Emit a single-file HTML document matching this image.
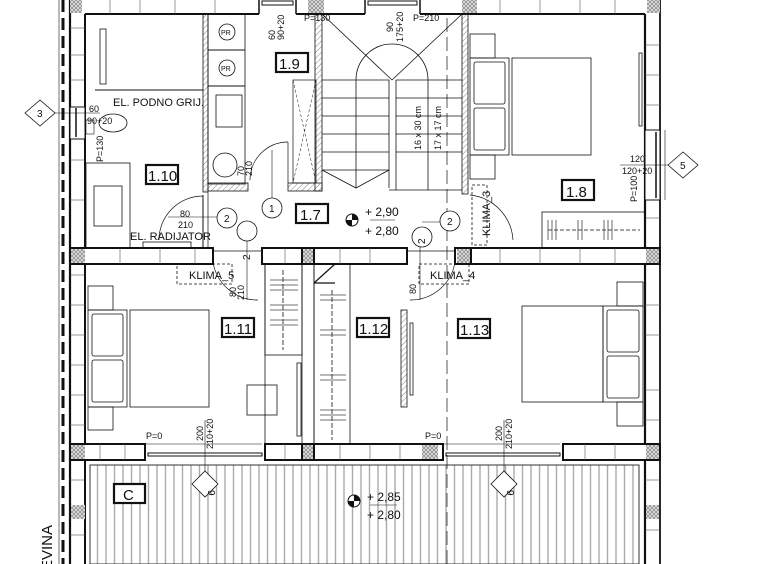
<!DOCTYPE html>
<html><head><meta charset="utf-8"><style>
html,body{margin:0;padding:0;background:#fff;}
svg{display:block;}
text{font-family:"Liberation Sans",sans-serif;fill:#111;}
</style></head><body>
<svg width="758" height="564" viewBox="0 0 758 564" xmlns="http://www.w3.org/2000/svg">
<defs>
<pattern id="hx" width="4" height="4" patternUnits="userSpaceOnUse"><rect width="4" height="4" fill="#ddd"/><path d="M0 0L4 4M4 0L0 4" stroke="#777" stroke-width="0.6"/></pattern>
<pattern id="hd" width="4" height="4" patternUnits="userSpaceOnUse" patternTransform="rotate(45)"><line x1="0" y1="0" x2="0" y2="4" stroke="#888" stroke-width="1"/></pattern>
<pattern id="terr" width="8.5" height="10" patternUnits="userSpaceOnUse"><line x1="4" y1="0" x2="4" y2="10" stroke="#aaa" stroke-width="1.4"/></pattern>
</defs>
<g fill="none" stroke="#111">
<line x1="63" y1="0" x2="63" y2="564" stroke-width="3" stroke-dasharray="12,6"/>
<line x1="59" y1="0" x2="59" y2="564" stroke-width="0.6"/>
<line x1="70" y1="0" x2="70" y2="564" stroke-width="2.2"/>
<line x1="85" y1="14" x2="85" y2="564" stroke-width="2"/>
<g stroke-width="0.6" stroke="#555"><line x1="70" y1="28" x2="85" y2="28"/><line x1="70" y1="55" x2="85" y2="55"/><line x1="70" y1="80" x2="85" y2="80"/><line x1="70" y1="275" x2="85" y2="275"/><line x1="70" y1="305" x2="85" y2="305"/><line x1="70" y1="335" x2="85" y2="335"/><line x1="70" y1="365" x2="85" y2="365"/><line x1="70" y1="395" x2="85" y2="395"/><line x1="70" y1="425" x2="85" y2="425"/><line x1="70" y1="480" x2="85" y2="480"/><line x1="70" y1="535" x2="85" y2="535"/><line x1="70" y1="160" x2="85" y2="160"/><line x1="70" y1="200" x2="85" y2="200"/></g>
<rect x="70" y="107" width="15" height="32" fill="#fff" stroke-width="1"/>
<line x1="76" y1="108" x2="76" y2="137" stroke-width="1.5"/>
<line x1="645" y1="14" x2="645" y2="564" stroke-width="2.2"/>
<line x1="660" y1="0" x2="660" y2="564" stroke-width="1.8"/>
<line x1="665" y1="130" x2="665" y2="200" stroke-width="0.6"/>
<rect x="645" y="130" width="15" height="70" fill="#fff" stroke-width="1"/>
<line x1="656" y1="132" x2="656" y2="198" stroke-width="1.5"/>
<g stroke-width="0.6" stroke="#555"><line x1="645" y1="45" x2="660" y2="45"/><line x1="645" y1="75" x2="660" y2="75"/><line x1="645" y1="105" x2="660" y2="105"/><line x1="645" y1="218" x2="660" y2="218"/><line x1="645" y1="305" x2="660" y2="305"/><line x1="645" y1="335" x2="660" y2="335"/><line x1="645" y1="390" x2="660" y2="390"/><line x1="645" y1="420" x2="660" y2="420"/><line x1="645" y1="480" x2="660" y2="480"/><line x1="645" y1="530" x2="660" y2="530"/></g>
<line x1="85" y1="14" x2="259" y2="14" stroke-width="2"/>
<line x1="296" y1="14" x2="365" y2="14" stroke-width="2"/>
<line x1="420" y1="14" x2="645" y2="14" stroke-width="2"/>
<line x1="259" y1="0" x2="259" y2="14" stroke-width="1.5"/><line x1="296" y1="0" x2="296" y2="14" stroke-width="1.5"/>
<line x1="365" y1="0" x2="365" y2="14" stroke-width="1.5"/><line x1="420" y1="0" x2="420" y2="14" stroke-width="1.5"/>
<rect x="262" y="1" width="31" height="4" stroke-width="1"/><rect x="368" y="1" width="49" height="4" stroke-width="1"/>
<g stroke-width="0.6" stroke="#555"><line x1="110" y1="0" x2="110" y2="14"/><line x1="140" y1="0" x2="140" y2="14"/><line x1="175" y1="0" x2="175" y2="14"/><line x1="215" y1="0" x2="215" y2="14"/><line x1="500" y1="0" x2="500" y2="14"/><line x1="540" y1="0" x2="540" y2="14"/><line x1="580" y1="0" x2="580" y2="14"/><line x1="615" y1="0" x2="615" y2="14"/></g>
<rect x="70" y="0" width="12" height="13" fill="url(#hx)" stroke="none"/>
<rect x="308" y="0" width="16" height="13" fill="url(#hx)" stroke="none"/>
<rect x="462" y="0" width="15" height="13" fill="url(#hx)" stroke="none"/>
<rect x="647" y="0" width="13" height="13" fill="url(#hx)" stroke="none"/>
<rect x="70" y="248" width="143" height="16" fill="#fff" stroke-width="2"/>
<rect x="262" y="248" width="145" height="16" fill="#fff" stroke-width="2"/>
<rect x="455" y="248" width="205" height="16" fill="#fff" stroke-width="2"/>
<rect x="71" y="249" width="14" height="14" fill="url(#hx)" stroke="none"/>
<rect x="302" y="249" width="12" height="14" fill="url(#hx)" stroke="none"/>
<rect x="457" y="249" width="14" height="14" fill="url(#hx)" stroke="none"/>
<rect x="646" y="249" width="13" height="14" fill="url(#hx)" stroke="none"/>
<line x1="302" y1="248" x2="302" y2="264" stroke-width="2"/><line x1="314" y1="248" x2="314" y2="264" stroke-width="2"/>
<line x1="471" y1="248" x2="471" y2="264" stroke-width="2"/>
<g stroke-width="0.6" stroke="#555"><line x1="120" y1="248" x2="120" y2="264"/><line x1="160" y1="248" x2="160" y2="264"/><line x1="195" y1="248" x2="195" y2="264"/><line x1="285" y1="248" x2="285" y2="264"/><line x1="340" y1="248" x2="340" y2="264"/><line x1="370" y1="248" x2="370" y2="264"/><line x1="500" y1="248" x2="500" y2="264"/><line x1="540" y1="248" x2="540" y2="264"/><line x1="580" y1="248" x2="580" y2="264"/><line x1="615" y1="248" x2="615" y2="264"/></g>
<line x1="213" y1="251" x2="262" y2="251" stroke-width="0.7"/><line x1="407" y1="251" x2="455" y2="251" stroke-width="0.7"/>
<rect x="70" y="444" width="75" height="16" fill="#fff" stroke-width="2"/>
<rect x="265" y="444" width="178" height="16" fill="#fff" stroke-width="2"/>
<rect x="563" y="444" width="97" height="16" fill="#fff" stroke-width="2"/>
<rect x="71" y="445" width="14" height="14" fill="url(#hx)" stroke="none"/>
<rect x="302" y="445" width="12" height="14" fill="url(#hx)" stroke="none"/>
<rect x="422" y="445" width="16" height="14" fill="url(#hx)" stroke="none"/>
<rect x="646" y="445" width="13" height="14" fill="url(#hx)" stroke="none"/>
<line x1="302" y1="444" x2="302" y2="460" stroke-width="2"/><line x1="314" y1="444" x2="314" y2="460" stroke-width="2"/>
<g stroke-width="0.6" stroke="#555"><line x1="100" y1="444" x2="100" y2="460"/><line x1="125" y1="444" x2="125" y2="460"/><line x1="285" y1="444" x2="285" y2="460"/><line x1="340" y1="444" x2="340" y2="460"/><line x1="370" y1="444" x2="370" y2="460"/><line x1="400" y1="444" x2="400" y2="460"/><line x1="585" y1="444" x2="585" y2="460"/><line x1="615" y1="444" x2="615" y2="460"/></g>
<rect x="148" y="453" width="114" height="3" stroke-width="1"/><rect x="446" y="453" width="114" height="3" stroke-width="1"/>
<line x1="145" y1="444" x2="262" y2="444" stroke-width="0.6"/><line x1="443" y1="444" x2="560" y2="444" stroke-width="0.6"/>
<rect x="71" y="505" width="14" height="14" fill="url(#hx)" stroke="none"/>
<rect x="646" y="505" width="13" height="14" fill="url(#hx)" stroke="none"/>
<rect x="90" y="465" width="549" height="99" fill="url(#terr)" stroke="#333" stroke-width="1"/>
<rect x="203" y="14" width="5" height="178" fill="url(#hd)" stroke-width="0.8"/>
<line x1="203" y1="195" x2="203" y2="248" stroke-width="1"/>
<line x1="208" y1="192" x2="208" y2="248" stroke-width="0.7"/>
<line x1="95" y1="90" x2="203" y2="90" stroke-width="1"/>
<rect x="100" y="29" width="6" height="55" stroke-width="0.8"/>
<rect x="86" y="163" width="44" height="85" stroke-width="0.8"/>
<rect x="94" y="186" width="28" height="40" stroke-width="0.8"/>
<rect x="86" y="120" width="8" height="14" stroke-width="0.6"/>
<ellipse cx="113" cy="123" rx="14" ry="9" stroke-width="0.8"/>
<rect x="143" y="242" width="48" height="6" stroke-width="0.8"/>
<path d="M203 196 A44 44 0 0 0 159 240" stroke-width="0.7"/>
<rect x="208" y="14" width="37" height="170" stroke-width="0.8"/>
<line x1="208" y1="50" x2="245" y2="50"/><line x1="208" y1="86" x2="245" y2="86"/>
<circle cx="227" cy="32" r="8" stroke-width="0.8"/><circle cx="227" cy="68" r="8" stroke-width="0.8"/>
<rect x="216" y="95" width="26" height="32" stroke-width="0.8"/>
<circle cx="225" cy="165" r="12" stroke-width="0.8"/>
<rect x="208" y="183" width="40" height="8" fill="url(#hd)" stroke-width="0.8"/>
<rect x="288" y="183" width="34" height="8" fill="url(#hd)" stroke-width="0.8"/>
<rect x="315" y="14" width="7" height="177" fill="url(#hd)" stroke-width="0.8"/>
<rect x="293" y="80" width="23" height="103" stroke-width="0.7"/>
<path d="M293 80 L316 183 M316 80 L293 183" stroke-width="0.5" stroke-dasharray="3,2"/>
<path d="M288 142 A38 38 0 0 0 250 180" stroke-width="0.7"/><line x1="288" y1="142" x2="288" y2="183" stroke-width="0.7"/>
<g stroke-width="0.8">
<line x1="322" y1="14" x2="392" y2="80"/><line x1="462" y1="14" x2="392" y2="80"/>
<path d="M356 80 A36 36 0 0 1 428 80"/>
<line x1="322" y1="80" x2="389" y2="80"/><line x1="396" y1="80" x2="462" y2="80"/>
<line x1="322" y1="98" x2="389" y2="98"/><line x1="396" y1="98" x2="462" y2="98"/>
<line x1="322" y1="116" x2="389" y2="116"/><line x1="396" y1="116" x2="462" y2="116"/>
<line x1="322" y1="134" x2="389" y2="134"/><line x1="396" y1="134" x2="462" y2="134"/>
<line x1="322" y1="152" x2="389" y2="152"/><line x1="396" y1="152" x2="462" y2="152"/>
<line x1="322" y1="170" x2="389" y2="170"/>
<line x1="389" y1="80" x2="389" y2="188"/><line x1="396" y1="80" x2="396" y2="190"/>
<line x1="356" y1="80" x2="356" y2="188"/><line x1="428" y1="80" x2="428" y2="190"/>
<path d="M322 170 L356 188 L389 170"/><line x1="389" y1="190" x2="462" y2="190"/>
</g>
<line x1="447" y1="18" x2="447" y2="564" stroke-width="0.7" stroke-dasharray="14,5"/>
<rect x="462" y="14" width="6" height="180" fill="url(#hd)" stroke-width="0.8"/>
<g stroke-width="0.8">
<rect x="470" y="34" width="25" height="24"/><rect x="470" y="155" width="25" height="24"/>
<rect x="470" y="58" width="39" height="97"/><rect x="474" y="62" width="31" height="42" rx="2"/><rect x="474" y="108" width="31" height="42" rx="2"/>
<rect x="512" y="58" width="79" height="97"/>
<rect x="639" y="53" width="3" height="73"/>
<rect x="542" y="212" width="103" height="36"/>
<line x1="548" y1="230" x2="640" y2="230" stroke-dasharray="4,2"/>
<rect x="472" y="185" width="15" height="60" stroke-dasharray="3,2"/>
<path d="M470 195 A48 48 0 0 1 513 240" stroke-width="0.7"/>
</g>
<g stroke-width="0.8">
<rect x="88" y="286" width="25" height="24"/><rect x="88" y="407" width="25" height="23"/>
<rect x="88" y="310" width="39" height="97"/><rect x="92" y="314" width="31" height="42" rx="2"/><rect x="92" y="360" width="31" height="42" rx="2"/>
<rect x="130" y="310" width="79" height="97"/>
<rect x="247" y="385" width="30" height="30"/>
<rect x="265" y="264" width="37" height="91"/><line x1="265" y1="264" x2="265" y2="444"/>
<rect x="297" y="363" width="4" height="73"/>
<rect x="302" y="264" width="12" height="180"/>
<rect x="314" y="264" width="36" height="180"/>
<path d="M314 283 L335 264 M314 283 L335 283" stroke-width="1.2"/>
<line x1="283" y1="270" x2="283" y2="350" stroke-dasharray="5,2"/><line x1="332" y1="290" x2="332" y2="440" stroke-dasharray="5,2"/>
<rect x="401" y="310" width="6" height="97" fill="url(#hd)"/><rect x="410" y="323" width="3" height="72"/>
<rect x="617" y="282" width="26" height="24"/><rect x="617" y="402" width="26" height="24"/>
<rect x="522" y="306" width="81" height="96"/><rect x="603" y="306" width="40" height="96"/><rect x="607" y="310" width="32" height="42" rx="2"/><rect x="607" y="356" width="32" height="42" rx="2"/>
<rect x="177" y="264" width="55" height="20" stroke-dasharray="3,2"/><rect x="419" y="264" width="50" height="20" stroke-dasharray="3,2"/>
<path d="M213 262 A45 45 0 0 0 258 300" stroke-width="0.7"/><path d="M455 262 A45 45 0 0 1 410 300" stroke-width="0.7"/>
</g>
<g stroke="#444" stroke-width="0.8">
<path d="M270 280h28M270 285h28M270 290h28M270 305h28M270 310h28M270 320h28M270 325h28M320 295h26M320 300h26M320 330h26M320 335h26M320 375h26M320 380h26M320 410h26M320 415h26M320 420h26"/>
<path d="M548 220v20M552 220v20M556 220v20M578 220v20M582 220v20M604 220v20M608 220v20M612 220v20"/>
</g>
<g stroke-width="0.6">
<line x1="50" y1="113" x2="100" y2="113"/><line x1="620" y1="165" x2="675" y2="165"/>
<line x1="168" y1="217" x2="218" y2="217"/><line x1="272" y1="150" x2="272" y2="198"/>
<line x1="422" y1="222" x2="460" y2="222"/><line x1="420" y1="237" x2="420" y2="300"/><line x1="247" y1="233" x2="247" y2="300"/>
<line x1="205" y1="420" x2="205" y2="478"/><line x1="504" y1="420" x2="504" y2="478"/>
<line x1="370" y1="220" x2="395" y2="220"/><line x1="370" y1="505" x2="397" y2="505"/>
</g>
<path d="M25 113 L40 100 L55 113 L40 126 Z" fill="#fff" stroke-width="0.8"/>
<path d="M668 165 L683 152 L698 165 L683 178 Z" fill="#fff" stroke-width="0.8"/>
<path d="M192 484 L205 471 L218 484 L205 497 Z" fill="#fff" stroke-width="0.8"/>
<path d="M491 484 L504 471 L517 484 L504 497 Z" fill="#fff" stroke-width="0.8"/>
<circle cx="227" cy="218" r="10" fill="#fff" stroke-width="0.8"/><circle cx="247" cy="231" r="10" fill="#fff" stroke-width="0.8"/>
<circle cx="272" cy="208" r="10" fill="#fff" stroke-width="0.8"/>
<circle cx="450" cy="221" r="10" fill="#fff" stroke-width="0.8"/><circle cx="422" cy="237" r="10" fill="#fff" stroke-width="0.8"/>
<g stroke-width="2.2" fill="#fff">
<rect x="146" y="165" width="32" height="19"/><rect x="276" y="53" width="32" height="19"/><rect x="296" y="204" width="32" height="19"/>
<rect x="562" y="180" width="32" height="20"/><rect x="222" y="318" width="32" height="19"/><rect x="357" y="318" width="32" height="19"/>
<rect x="458" y="319" width="32" height="19"/><rect x="114" y="484" width="31" height="19"/>
</g>
</g>
<g><circle cx="352" cy="220" r="6" fill="#fff" stroke="#111"/><path d="M352 214 A6 6 0 0 1 358 220 L352 220Z M352 226 A6 6 0 0 1 346 220 L352 220Z" fill="#111"/></g>
<g><circle cx="354" cy="501" r="6" fill="#fff" stroke="#111"/><path d="M354 495 A6 6 0 0 1 360 501 L354 501Z M354 507 A6 6 0 0 1 348 501 L354 501Z" fill="#111"/></g>
<g font-size="15">
<text x="148" y="181">1.10</text><text x="279" y="69">1.9</text><text x="300" y="220">1.7</text><text x="566" y="197">1.8</text>
<text x="224" y="334">1.11</text><text x="359" y="334">1.12</text><text x="460" y="335">1.13</text><text x="123" y="500">C</text>
</g>
<g font-size="12"><text x="365" y="216">+ 2,90</text><text x="365" y="235">+ 2,80</text><text x="367" y="501">+ 2,85</text><text x="367" y="519">+ 2,80</text></g>
<g font-size="10">
<text x="113" y="106" font-size="11">EL. PODNO GRIJ.</text><text x="130" y="240" font-size="11">EL. RADIJATOR</text>
<text x="89" y="112" font-size="9">60</text><text x="87" y="124" font-size="9">90+20</text>
<text x="180" y="217" font-size="9">80</text><text x="178" y="228" font-size="9">210</text>
<text x="630" y="162" font-size="9">120</text><text x="622" y="174" font-size="9">120+20</text>
<text x="37" y="117">3</text><text x="680" y="169">5</text>
<text x="224" y="222">2</text><text x="447" y="225">2</text><text x="269" y="212">1</text>
<text x="189" y="279" font-size="11">KLIMA_5</text><text x="430" y="279" font-size="11">KLIMA_4</text>
<text x="146" y="439" font-size="9">P=0</text><text x="425" y="439" font-size="9">P=0</text>
<text x="304" y="21" font-size="9">P=130</text><text x="413" y="21" font-size="9">P=210</text>
</g>
<g font-size="9">
<text transform="translate(103,162) rotate(-90)">P=130</text>
<text transform="translate(637,202) rotate(-90)">P=100</text>
<text transform="translate(244,176) rotate(-90)">70</text><text transform="translate(252,176) rotate(-90)">210</text>
<text transform="translate(421,150) rotate(-90)">16 x 30 cm</text><text transform="translate(441,150) rotate(-90)">17 x 17 cm</text>
<text transform="translate(490,236) rotate(-90)" font-size="11">KLIMA_3</text>
<text transform="translate(250,260) rotate(-90)" font-size="10">2</text><text transform="translate(425,244) rotate(-90)" font-size="10">2</text>
<text transform="translate(275,40) rotate(-90)">60</text><text transform="translate(284,40) rotate(-90)">90+20</text>
<text transform="translate(393,32) rotate(-90)">90</text><text transform="translate(403,42) rotate(-90)">175+20</text>
<text transform="translate(203,441) rotate(-90)">200</text><text transform="translate(213,449) rotate(-90)">210+20</text>
<text transform="translate(502,441) rotate(-90)">200</text><text transform="translate(512,449) rotate(-90)">210+20</text>
<text transform="translate(236,297) rotate(-90)">80</text><text transform="translate(244,300) rotate(-90)">210</text>
<text transform="translate(416,294) rotate(-90)">80</text>
<text transform="translate(208,490) rotate(90)" font-size="10">9</text><text transform="translate(507,490) rotate(90)" font-size="10">9</text>
<text transform="translate(52,570) rotate(-90)" font-size="15">EVINA</text>
</g>
<g font-size="7"><text x="221" y="35">PR</text><text x="221" y="71">PR</text></g>
</svg>
</body></html>
